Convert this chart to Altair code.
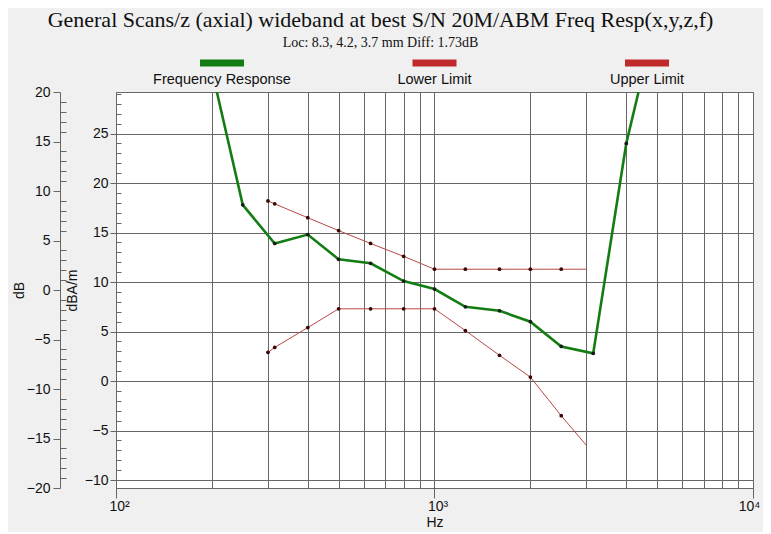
import altair as alt
import pandas as pd

TITLE = "General Scans/z (axial) wideband at best S/N 20M/ABM Freq Resp(x,y,z,f)"
SUBTITLE = "Loc: 8.3, 4.2, 3.7 mm Diff: 1.73dB"

# Frequency response (dBA/m)
resp_hz = [200, 250, 315, 400, 500, 630, 800, 1000, 1250, 1600, 2000, 2500, 3150, 4000, 5000]
resp_dbam = [31.4, 17.8, 13.9, 14.8, 12.3, 11.9, 10.1, 9.3, 7.5, 7.1, 6.0, 3.5, 2.8, 24.0, 37.1]

# Limits (dBA/m)
limit_hz = [300, 315, 400, 500, 630, 800, 1000, 1250, 1600, 2000, 2500, 3000]
lower_dbam = [2.9, 3.4, 5.4, 7.3, 7.3, 7.3, 7.3, 5.1, 2.6, 0.4, -3.5, -6.5]
upper_dbam = [18.2, 17.9, 16.5, 15.2, 13.9, 12.6, 11.3, 11.3, 11.3, 11.3, 11.3, 11.3]
limit_marked = [True] * 11 + [False]

legend_names = ["Frequency Response", "Lower Limit", "Upper Limit"]
legend_colors = ["#137d13", "#c02a2a", "#c02a2a"]

x_grid_hz = [100, 200, 300, 400, 500, 600, 700, 800, 900, 1000,
             2000, 3000, 4000, 5000, 6000, 7000, 8000, 9000, 10000]
dbam_major = [-10, -5, 0, 5, 10, 15, 20, 25]
dbam_minor = [v for v in range(-10, 30) if v % 5]
db_major = [-20, -15, -10, -5, 0, 5, 10, 15, 20]
db_minor = [v for v in range(-20, 21) if v % 5]
dbam_domain = [-10.8, 29.2]
db_domain = [-20, 20]

SANS = "Liberation Sans"
SERIF = "Liberation Serif"
GRID = "#666666"
W, H = 637, 396

resp_df = pd.DataFrame({"hz": resp_hz, "v": resp_dbam})
lim_df = pd.DataFrame({
    "hz": limit_hz * 2,
    "v": lower_dbam + upper_dbam,
    "series": ["Lower Limit"] * len(limit_hz) + ["Upper Limit"] * len(limit_hz),
    "marked": limit_marked * 2,
})
leg_df = pd.DataFrame({"name": legend_names, "color": legend_colors})

x_axis = alt.Axis(
    values=x_grid_hz, grid=True, gridColor=GRID, gridWidth=1, gridOpacity=1,
    domainColor=GRID, tickColor=GRID, tickSize=10,
    tickOpacity={"condition": {"test": "indexof([100, 1000, 10000], datum.value) >= 0", "value": 1}, "value": 0},
    labelExpr="datum.value == 100 ? '10²' : datum.value == 1000 ? '10³' : datum.value == 10000 ? '10⁴' : ''",
    labelFont=SANS, labelFontSize=14, labelColor="#111111", labelPadding=1,
    labelOffset={"condition": {"test": "datum.value >= 10000", "value": -4}, "value": 3},
    labelFlush=False, labelOverlap=False, labelBaseline="top",
    title="Hz", titleFont=SANS, titleFontSize=14, titleFontWeight="normal",
    titleColor="#111111", titlePadding=2,
)
y_axis = alt.Axis(
    orient="left", values=dbam_major, grid=True, gridColor=GRID, gridWidth=1, gridOpacity=1,
    domainColor=GRID, tickColor=GRID, tickSize=6,
    labelFont=SANS, labelFontSize=14, labelColor="#111111", labelPadding=2, labelOverlap=False,
    title="dBA/m", titleFont=SANS, titleFontSize=14, titleFontWeight="normal",
    titleColor="#111111", titlePadding=5,
)

X = alt.X("hz:Q", scale=alt.Scale(type="log", domain=[100, 10000], nice=False), axis=x_axis)
Y = alt.Y("v:Q", scale=alt.Scale(domain=dbam_domain, nice=False, zero=False), axis=y_axis)

resp_line = alt.Chart(resp_df).mark_line(color="#137d13", strokeWidth=2.6, clip=True).encode(x=X, y=Y)
resp_pts = alt.Chart(resp_df).mark_circle(color="#1a1a1a", size=14, opacity=1, clip=True).encode(x=X, y=Y)
lim_lines = alt.Chart(lim_df).mark_line(color="#b84848", strokeWidth=1, clip=True).encode(
    x=X, y=Y, detail="series:N")
lim_pts = alt.Chart(lim_df).transform_filter("datum.marked").mark_circle(
    color="#3a0606", size=14, opacity=1, clip=True).encode(x=X, y=Y)

data_layer = alt.layer(resp_line, lim_lines, resp_pts, lim_pts)

db_df = pd.DataFrame({"v": db_domain})
db_scale = alt.Scale(domain=db_domain, nice=False, zero=False)
dbam_scale = alt.Scale(domain=dbam_domain, nice=False, zero=False)

db_axis_layer = alt.Chart(db_df).mark_point(opacity=0).encode(
    y=alt.Y("v:Q", scale=db_scale, axis=alt.Axis(
        orient="left", offset=56, values=db_major, grid=False,
        domainColor=GRID, tickColor=GRID, tickSize=7,
        labelFont=SANS, labelFontSize=14, labelColor="#111111", labelPadding=3, labelOverlap=False,
        title="dB", titleFont=SANS, titleFontSize=14, titleFontWeight="normal",
        titleColor="#111111", titlePadding=0)))

dbam_minor_layer = alt.Chart(pd.DataFrame({"v": dbam_domain})).mark_point(opacity=0).encode(
    y=alt.Y("v:Q", scale=dbam_scale, axis=alt.Axis(
        orient="right", offset=-W, values=dbam_minor, grid=False, domain=False, labels=False,
        tickColor=GRID, tickSize=5, title=None)))

db_minor_layer = alt.Chart(db_df).mark_point(opacity=0).encode(
    y=alt.Y("v:Q", scale=db_scale, axis=alt.Axis(
        orient="right", offset=-(W + 56), values=db_minor, grid=False, domain=False, labels=False,
        tickColor=GRID, tickSize=6, title=None)))

LX = alt.X("name:N", sort=legend_names,
           scale=alt.Scale(type="point", domain=legend_names, range=[106, 531], padding=0),
           axis=None)
leg_bar = alt.Chart(leg_df).mark_tick(orient="horizontal", size=44, thickness=7, opacity=1, clip=False).encode(
    x=LX, y=alt.value(-29), color=alt.Color("color:N", scale=None))
leg_txt = alt.Chart(leg_df).mark_text(font=SANS, fontSize=14.5, color="#111111", baseline="middle", clip=False).encode(
    x=LX, y=alt.value(-12), text="name:N")

chart = alt.layer(
    data_layer, db_axis_layer, dbam_minor_layer, db_minor_layer, leg_bar, leg_txt
).resolve_scale(y="independent", x="independent").properties(
    width=W, height=H,
    autosize=alt.AutoSizeParams(type="none"),
    padding={"left": 108, "top": 84, "right": 10, "bottom": 44},
    background="#f0f0f0",
    title=alt.TitleParams(
        text=TITLE, subtitle=SUBTITLE, anchor="middle", frame="group", dx=-54,
        font=SERIF, fontSize=22, fontWeight="normal", color="#111111",
        subtitleFont=SERIF, subtitleFontSize=14, subtitleColor="#111111", subtitlePadding=4,
        offset=9,
    ),
).configure_view(fill="white", stroke=GRID, strokeWidth=1)

chart.save("out.html", embed_options={"renderer": "svg", "actions": False})
